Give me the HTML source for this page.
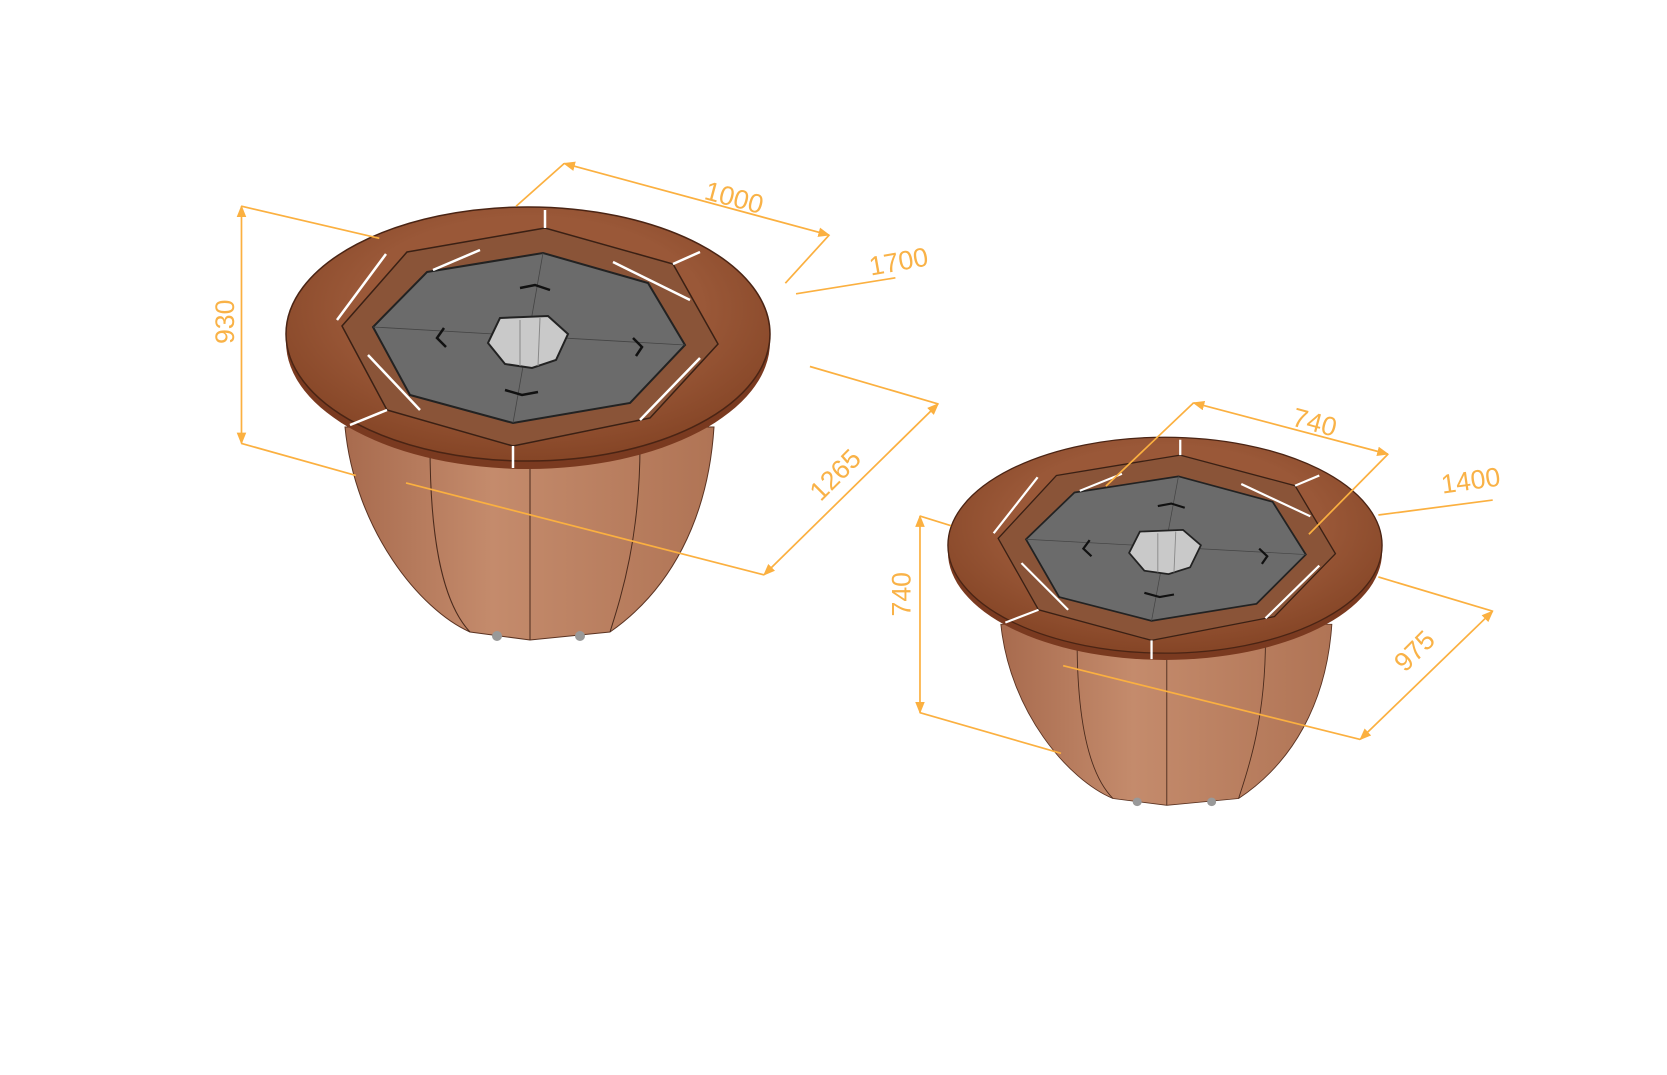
<!DOCTYPE html>
<html><head><meta charset="utf-8"><style>
html,body{margin:0;padding:0;background:#fff;}
svg{display:block;}
text{font-family:"Liberation Sans",sans-serif;fill:#f9b247;font-size:25px;}
</style></head><body>
<svg width="1667" height="1075" viewBox="0 0 1667 1075" xmlns="http://www.w3.org/2000/svg">
<defs>
<marker id="a" viewBox="0 0 10 10" refX="9" refY="5" markerWidth="7" markerHeight="7" orient="auto-start-reverse"><path d="M0,1 L10,5 L0,9 z" fill="#fbb040"/></marker>
<linearGradient id="bowl" x1="0" x2="1"><stop offset="0" stop-color="#a86b4e"/><stop offset="0.4" stop-color="#c48b6c"/><stop offset="1" stop-color="#b07455"/></linearGradient>
<radialGradient id="wood" cx="0.5" cy="0.4" r="0.6"><stop offset="0.6" stop-color="#9a5838"/><stop offset="1" stop-color="#854526"/></radialGradient>
<g id="tbl">
 <path d="M345,427 C355,530 420,610 470,632 L530,640 L610,632 C670,590 708,520 714,427 Z" fill="url(#bowl)" stroke="#5a3322" stroke-width="1"/>
 <path d="M430,445 C430,530 440,600 470,632 M530,450 L530,640 M640,445 C640,540 620,600 610,632" fill="none" stroke="#4a2a1c" stroke-width="1"/>
 <circle cx="497" cy="636" r="5" fill="#999"/><circle cx="580" cy="636" r="5" fill="#999"/>
 <ellipse cx="528" cy="342" rx="242" ry="127" fill="#7a3a20"/>
 <ellipse cx="528" cy="334" rx="242" ry="127" fill="url(#wood)" stroke="#4a2414" stroke-width="1.5"/>
 <polygon points="407,252 545,228 673,264 718,344 650,418 513,446 387,410 342,326" fill="#8a5438" stroke="#3a2014" stroke-width="1.5"/>
 <polygon points="427,272 543,253 648,283 685,345 630,403 513,423 410,395 373,327" fill="#6b6b6b" stroke="#222" stroke-width="2"/>
 <path d="M373,327 L685,345 M543,253 L513,423" stroke="#444" stroke-width="0.8" fill="none"/>
 <polygon points="500,318 548,316 568,334 556,360 532,368 505,364 488,343" fill="#c9c9c9" stroke="#222" stroke-width="2"/>
 <path d="M520,320 L520,366 M540,318 L538,366" stroke="#888" stroke-width="1"/>
 <path d="M433,270 L480,250 M613,262 L690,300 M700,358 L640,420 M420,410 L368,355 M386,254 L337,320 M545,228 L545,210 M673,264 L700,252 M513,446 L513,468 M387,410 L350,425" stroke="#fff" stroke-width="2.5"/>
 <path d="M520,288 L535,285 L550,290 M444,328 L437,338 L446,347 M633,338 L642,347 L636,356 M505,390 L522,395 L538,392" stroke="#111" stroke-width="2.5" fill="none"/>
</g>
</defs>
<use href="#tbl"/>
<g transform="translate(1165,552) scale(0.897,0.85) translate(-528,-342)"><use href="#tbl"/></g>
<g transform="scale(1.0685)" stroke="#fbb040" stroke-width="1.6" fill="none">
 <line x1="226" y1="193" x2="226" y2="415" marker-start="url(#a)" marker-end="url(#a)"/>
 <line x1="226" y1="193" x2="355" y2="223"/><line x1="226" y1="415" x2="333" y2="445"/>
 <line x1="528" y1="153" x2="776" y2="220" marker-start="url(#a)" marker-end="url(#a)"/>
 <line x1="528" y1="153" x2="483" y2="193"/><line x1="776" y1="220" x2="735" y2="265"/>
 <line x1="745" y1="275" x2="838" y2="260"/>
 <line x1="715" y1="538" x2="878" y2="378" marker-start="url(#a)" marker-end="url(#a)"/>
 <line x1="758" y1="343" x2="878" y2="378"/><line x1="380" y1="452" x2="715" y2="538"/>
 <line x1="1117" y1="377" x2="1299" y2="425" marker-start="url(#a)" marker-end="url(#a)"/>
 <line x1="1117" y1="377" x2="1035" y2="455"/><line x1="1299" y1="425" x2="1225" y2="500"/>
 <line x1="1290" y1="482" x2="1397" y2="468"/>
 <line x1="861" y1="483" x2="861" y2="667" marker-start="url(#a)" marker-end="url(#a)"/>
 <line x1="861" y1="483" x2="890" y2="492"/><line x1="861" y1="667" x2="993" y2="705"/>
 <line x1="1273" y1="692" x2="1397" y2="572" marker-start="url(#a)" marker-end="url(#a)"/>
 <line x1="1290" y1="540" x2="1397" y2="572"/><line x1="995" y1="623" x2="1273" y2="692"/>
 <g stroke="none">
 <text transform="translate(219,322) rotate(-90)">930</text>
 <text transform="translate(658,186) rotate(15)">1000</text>
 <text transform="translate(815,258) rotate(-10)">1700</text>
 <text transform="translate(768,470) rotate(-45)">1265</text>
 <text transform="translate(1208,398) rotate(15)">740</text>
 <text transform="translate(1350,462) rotate(-8)">1400</text>
 <text transform="translate(852,577) rotate(-90)">740</text>
 <text transform="translate(1315,630) rotate(-45)">975</text>
 </g>
</g>
</svg>
</body></html>
